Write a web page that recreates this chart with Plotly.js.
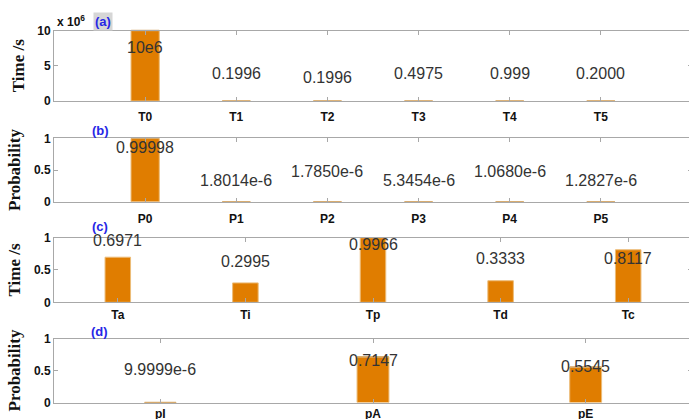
<!DOCTYPE html>
<html>
<head>
<meta charset="utf-8">
<script src="https://cdn.plot.ly/plotly-3.0.1.min.js"></script>
<style>
html, body { margin: 0; padding: 0; overflow: hidden; background: #fff; }
#chart { width: 694px; height: 419px; }
</style>
</head>
<body>
<div id="chart"></div>
<script>
// ---- Data ----
var catA = ['T0', 'T1', 'T2', 'T3', 'T4', 'T5'];
var valA = [10e6, 0.1996, 0.1996, 0.4975, 0.999, 0.2000];
var txtA = ['10e6', '0.1996', '0.1996', '0.4975', '0.999', '0.2000'];
var lblYA = [7.6e6, 3.85e6, 3.36e6, 3.85e6, 3.85e6, 3.85e6];

var catB = ['P0', 'P1', 'P2', 'P3', 'P4', 'P5'];
var valB = [0.99998, 1.8014e-6, 1.7850e-6, 5.3454e-6, 1.0680e-6, 1.2827e-6];
var txtB = ['0.99998', '1.8014e-6', '1.7850e-6', '5.3454e-6', '1.0680e-6', '1.2827e-6'];
var lblYB = [0.86, 0.34, 0.47, 0.33, 0.48, 0.33];

var catC = ['Ta', 'Ti', 'Tp', 'Td', 'Tc'];
var valC = [0.6971, 0.2995, 0.9966, 0.3333, 0.8117];
var txtC = ['0.6971', '0.2995', '0.9966', '0.3333', '0.8117'];
var lblYC = [0.96, 0.63, 0.89, 0.68, 0.68];

var catD = ['pI', 'pA', 'pE'];
var valD = [9.9999e-6, 0.7147, 0.5545];
var txtD = ['9.9999e-6', '0.7147', '0.5545'];
var lblYD = [0.52, 0.66, 0.56];

// ---- Styles ----
var barColor = '#E07D00';
var edgeColor = 'rgb(236,188,120)';
var axColor = '#a8a8a8';
var H = 419;
function dom(topPx, botPx) { return [1 - botPx / H, 1 - topPx / H]; }

function barTrace(cats, vals, xa, ya, w) {
  return {
    type: 'bar', x: cats, y: vals, xaxis: xa, yaxis: ya, width: w,
    marker: { color: barColor, line: { color: edgeColor, width: 1 } },
    hoverinfo: 'x+y', showlegend: false
  };
}
// thin outline of each bar's top edge, so near-zero bars still show as a line
function edgeTrace(cats, vals, xa, ya, size) {
  return {
    type: 'scatter', mode: 'markers', x: cats, y: vals, xaxis: xa, yaxis: ya,
    marker: { symbol: 'line-ew', size: size, line: { color: 'rgb(214,170,110)', width: 1.5 } },
    hoverinfo: 'skip', showlegend: false, cliponaxis: false
  };
}

var data = [
  barTrace(catA, valA, 'x', 'y', 0.31),
  barTrace(catB, valB, 'x2', 'y2', 0.31),
  barTrace(catC, valC, 'x3', 'y3', 0.2),
  barTrace(catD, valD, 'x4', 'y4', 0.15),
  edgeTrace(catA, valA, 'x', 'y', 20),
  edgeTrace(catB, valB, 'x2', 'y2', 20),
  edgeTrace(catD, valD, 'x4', 'y4', 22.5)
];

var tickFont = { family: 'Liberation Sans, Arial, sans-serif', size: 12, color: '#111', weight: 'bold' };
var titleFont = { family: 'Liberation Serif, Times New Roman, serif', size: 17, color: '#111', weight: 'bold' };

function xAxis(anchor, range, standoff) {
  return {
    anchor: anchor, domain: [0, 1], range: range, type: 'category',
    showline: true, linecolor: axColor, linewidth: 1, mirror: 'ticks',
    ticks: 'inside', ticklen: 4, tickcolor: axColor,
    tickfont: tickFont, showgrid: false, zeroline: false, fixedrange: true,
    ticklabelstandoff: standoff
  };
}
function yAxis(anchor, domain, range, tickvals, ticktext, title) {
  return {
    anchor: anchor, domain: domain, range: range,
    tickvals: tickvals, ticktext: ticktext,
    showline: true, linecolor: axColor, linewidth: 1, mirror: 'ticks',
    ticks: 'inside', ticklen: 4, tickcolor: axColor,
    tickfont: tickFont, showgrid: false, zeroline: false, fixedrange: true,
    title: { text: title, font: titleFont, standoff: 8 }
  };
}

var annFont = { family: 'Liberation Sans, Arial, sans-serif', size: 16, color: '#333' };
var annotations = [];
function addLabels(cats, txt, ys, xref, yref) {
  for (var i = 0; i < cats.length; i++) {
    annotations.push({
      x: cats[i], y: ys[i], xref: xref, yref: yref, text: txt[i],
      showarrow: false, font: annFont, xanchor: 'center', yanchor: 'middle'
    });
  }
}
addLabels(catA, txtA, lblYA, 'x', 'y');
addLabels(catB, txtB, lblYB, 'x2', 'y2');
addLabels(catC, txtC, lblYC, 'x3', 'y3');
addLabels(catD, txtD, lblYD, 'x4', 'y4');

var panelFont = { family: 'Liberation Sans, Arial, sans-serif', size: 13, color: '#2626e6', weight: 'bold' };
function px2x(px) { return (px - 54) / 638; }
function px2y(px) { return 1 - px / H; }
annotations.push({ text: '(a)', xref: 'paper', yref: 'paper', x: px2x(103), y: px2y(21), showarrow: false,
  font: panelFont, bgcolor: '#d6d6d6', borderpad: 1, xanchor: 'center', yanchor: 'middle' });
annotations.push({ text: '(b)', xref: 'paper', yref: 'paper', x: px2x(100), y: px2y(130.5), showarrow: false,
  font: panelFont, xanchor: 'center', yanchor: 'middle' });
annotations.push({ text: '(c)', xref: 'paper', yref: 'paper', x: px2x(99.5), y: px2y(226), showarrow: false,
  font: panelFont, xanchor: 'center', yanchor: 'middle' });
annotations.push({ text: '(d)', xref: 'paper', yref: 'paper', x: px2x(99.5), y: px2y(331.5), showarrow: false,
  font: panelFont, xanchor: 'center', yanchor: 'middle' });
annotations.push({ text: 'x 10<sup>6</sup>', xref: 'paper', yref: 'paper', x: px2x(55), y: px2y(21), showarrow: false,
  font: { family: 'Liberation Sans, Arial, sans-serif', size: 12, color: '#111', weight: 'bold' },
  xanchor: 'left', yanchor: 'middle' });

var layout = {
  width: 694, height: 419,
  margin: { l: 54, r: 2, t: 0, b: 0, pad: 0 },
  paper_bgcolor: '#fff', plot_bgcolor: '#fff',
  bargap: 0,
  showlegend: false,
  xaxis: xAxis('y', [-1, 6], 5),
  yaxis: yAxis('x', dom(30.5, 101), [0, 10e6], [0, 5e6, 10e6], ['0', '5', '10'], 'Time /s'),
  xaxis2: xAxis('y2', [-1, 6], 6),
  yaxis2: yAxis('x2', dom(138.3, 201.8), [0, 1], [0, 0.5, 1], ['0', '0.5', '1'], 'Probability'),
  xaxis3: xAxis('y3', [-0.5, 4.5], 1),
  yaxis3: yAxis('x3', dom(237.6, 302.3), [0, 1], [0, 0.5, 1], ['0', '0.5', '1'], 'Time /s'),
  xaxis4: xAxis('y4', [-0.5, 2.5], 0),
  yaxis4: yAxis('x4', dom(338.6, 402.5), [0, 1], [0, 0.5, 1], ['0', '0.5', '1'], 'Probability'),
  annotations: annotations
};

Plotly.newPlot('chart', data, layout, { displayModeBar: false, staticPlot: true });
</script>
</body>
</html>
